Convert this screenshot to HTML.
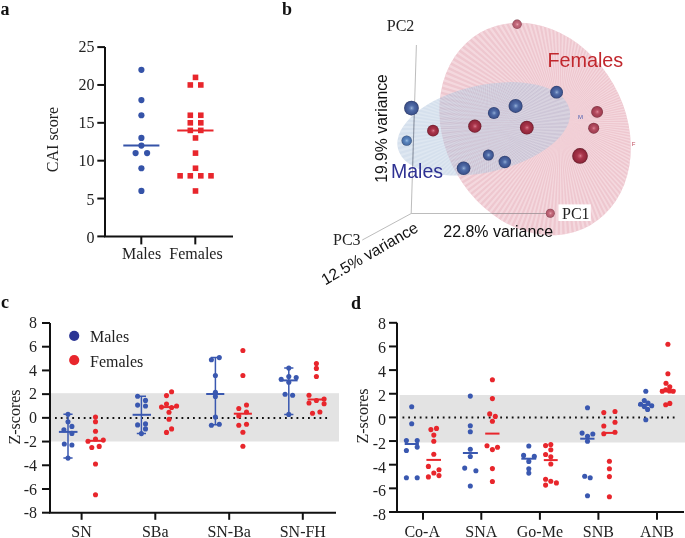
<!DOCTYPE html>
<html><head><meta charset="utf-8"><style>
html,body{margin:0;padding:0;background:#fff;}
body{width:685px;height:538px;overflow:hidden;}
svg{display:block;will-change:transform;}
.serif{font-family:"Liberation Serif",serif;}
.sans{font-family:"Liberation Sans",sans-serif;}
</style></head><body>
<svg width="685" height="538" viewBox="0 0 685 538">
<defs>

<radialGradient id="gb" cx="0.5" cy="0.5" r="0.5" fx="0.52" fy="0.5"><stop offset="0" stop-color="#b4c8e6"/><stop offset="0.12" stop-color="#7894c4"/><stop offset="0.38" stop-color="#4f6aa6"/><stop offset="0.8" stop-color="#3e5590"/><stop offset="0.93" stop-color="#34467a"/><stop offset="1" stop-color="#2c3560"/></radialGradient>
<radialGradient id="gb2" cx="0.5" cy="0.5" r="0.5" fx="0.52" fy="0.5"><stop offset="0" stop-color="#c0d8f0"/><stop offset="0.12" stop-color="#82a8d6"/><stop offset="0.38" stop-color="#5b86be"/><stop offset="0.8" stop-color="#4a70a8"/><stop offset="0.93" stop-color="#3e5c8c"/><stop offset="1" stop-color="#33486e"/></radialGradient>
<radialGradient id="gr" cx="0.5" cy="0.5" r="0.5" fx="0.52" fy="0.5"><stop offset="0" stop-color="#e49aa6"/><stop offset="0.12" stop-color="#c45a6e"/><stop offset="0.38" stop-color="#a8344a"/><stop offset="0.8" stop-color="#93283c"/><stop offset="0.93" stop-color="#7a2032"/><stop offset="1" stop-color="#5e1a26"/></radialGradient>
<radialGradient id="gr2" cx="0.5" cy="0.5" r="0.5" fx="0.52" fy="0.5"><stop offset="0" stop-color="#eaa8b2"/><stop offset="0.12" stop-color="#ce6c80"/><stop offset="0.38" stop-color="#b44c60"/><stop offset="0.8" stop-color="#a03e52"/><stop offset="0.93" stop-color="#883444"/><stop offset="1" stop-color="#6e2a38"/></radialGradient>
<radialGradient id="gr3" cx="0.5" cy="0.5" r="0.5" fx="0.52" fy="0.5"><stop offset="0" stop-color="#eebcc4"/><stop offset="0.12" stop-color="#d88c9a"/><stop offset="0.38" stop-color="#c46a7c"/><stop offset="0.8" stop-color="#b05a6c"/><stop offset="0.93" stop-color="#9a4c5c"/><stop offset="1" stop-color="#80404e"/></radialGradient>
</defs>
<rect width="685" height="538" fill="#fff"/>

<text class="serif" x="0.5" y="15" font-size="18" font-weight="bold" fill="#111">a</text>
<text class="serif" x="282" y="15" font-size="18" font-weight="bold" fill="#111">b</text>
<text class="serif" x="1" y="308" font-size="18" font-weight="bold" fill="#111">c</text>
<text class="serif" x="351" y="308.5" font-size="18" font-weight="bold" fill="#111">d</text>
<g stroke="#111" stroke-width="2" fill="none">
<path d="M105 47.099999999999994 V237.4 M104 236.4 H233"/>
<path d="M97.3 236.40 H105"/>
<path d="M97.3 198.54 H105"/>
<path d="M97.3 160.68 H105"/>
<path d="M97.3 122.82 H105"/>
<path d="M97.3 84.96 H105"/>
<path d="M97.3 47.10 H105"/>
<path d="M141.3 236.4 V244.4"/>
<path d="M195.3 236.4 V244.4"/>
</g>
<text class="serif" x="94.6" y="242.70" font-size="16" text-anchor="end" fill="#222">0</text>
<text class="serif" x="94.6" y="204.58" font-size="16" text-anchor="end" fill="#222">5</text>
<text class="serif" x="94.6" y="166.46" font-size="16" text-anchor="end" fill="#222">10</text>
<text class="serif" x="94.6" y="128.34" font-size="16" text-anchor="end" fill="#222">15</text>
<text class="serif" x="94.6" y="90.22" font-size="16" text-anchor="end" fill="#222">20</text>
<text class="serif" x="94.6" y="52.10" font-size="16" text-anchor="end" fill="#222">25</text>
<text class="serif" x="141.6" y="259.4" font-size="16" text-anchor="middle" fill="#222">Males</text>
<text class="serif" x="196" y="259.4" font-size="16" text-anchor="middle" fill="#222">Females</text>
<text class="serif" transform="translate(57.6,139.5) rotate(-90)" font-size="16" text-anchor="middle" fill="#222">CAI score</text>
<circle cx="141.4" cy="69.82" r="3.1" fill="#3553a8"/>
<circle cx="141.4" cy="100.10" r="3.1" fill="#3553a8"/>
<circle cx="141.4" cy="115.25" r="3.1" fill="#3553a8"/>
<circle cx="141.4" cy="137.96" r="3.1" fill="#3553a8"/>
<circle cx="141.4" cy="145.54" r="3.1" fill="#3553a8"/>
<circle cx="135.6" cy="153.11" r="3.1" fill="#3553a8"/>
<circle cx="147.1" cy="153.11" r="3.1" fill="#3553a8"/>
<circle cx="141.4" cy="168.25" r="3.1" fill="#3553a8"/>
<circle cx="141.4" cy="190.97" r="3.1" fill="#3553a8"/>
<path d="M123.3 145.54 H159.4" stroke="#3553a8" stroke-width="2"/>
<rect x="192.70" y="74.59" width="5.6" height="5.6" fill="#e8262c"/>
<rect x="187.50" y="82.16" width="5.6" height="5.6" fill="#e8262c"/>
<rect x="198.00" y="82.16" width="5.6" height="5.6" fill="#e8262c"/>
<rect x="187.50" y="112.45" width="5.6" height="5.6" fill="#e8262c"/>
<rect x="198.00" y="112.45" width="5.6" height="5.6" fill="#e8262c"/>
<rect x="187.50" y="120.02" width="5.6" height="5.6" fill="#e8262c"/>
<rect x="198.00" y="120.02" width="5.6" height="5.6" fill="#e8262c"/>
<rect x="187.50" y="127.59" width="5.6" height="5.6" fill="#e8262c"/>
<rect x="198.00" y="127.59" width="5.6" height="5.6" fill="#e8262c"/>
<rect x="192.70" y="135.16" width="5.6" height="5.6" fill="#e8262c"/>
<rect x="192.70" y="150.31" width="5.6" height="5.6" fill="#e8262c"/>
<rect x="192.70" y="165.45" width="5.6" height="5.6" fill="#e8262c"/>
<rect x="177.30" y="173.02" width="5.6" height="5.6" fill="#e8262c"/>
<rect x="187.50" y="173.02" width="5.6" height="5.6" fill="#e8262c"/>
<rect x="198.00" y="173.02" width="5.6" height="5.6" fill="#e8262c"/>
<rect x="208.20" y="173.02" width="5.6" height="5.6" fill="#e8262c"/>
<rect x="192.70" y="188.17" width="5.6" height="5.6" fill="#e8262c"/>
<path d="M177.2 130.39 H213.5" stroke="#e8262c" stroke-width="2"/>
<g>
<path d="M416.4 45 L411.2 213.5 L546 213.5 M411.2 213.5 L362.3 240" stroke="#b4b4b4" stroke-width="0.9" fill="none"/>
<clipPath id="cpr"><ellipse cx="535.1" cy="129" rx="90.3" ry="110.9" transform="rotate(-29.6 535.1 129)"/></clipPath>
<ellipse cx="535.1" cy="129" rx="90.3" ry="110.9" transform="rotate(-29.6 535.1 129)" fill="#eec7cf"/>
<path d="M560 122 L820.0 122.0 L819.9 127.4Z M560 122 L819.8 132.9 L819.5 138.3Z M560 122 L819.1 143.8 L818.6 149.2Z M560 122 L817.9 154.6 L817.2 160.0Z M560 122 L816.4 165.4 L815.4 170.7Z M560 122 L814.3 176.1 L813.1 181.4Z M560 122 L811.8 186.7 L810.4 191.9Z M560 122 L808.9 197.1 L807.3 202.3Z M560 122 L805.5 207.5 L803.7 212.6Z M560 122 L801.7 217.7 L799.7 222.8Z M560 122 L797.5 227.8 L795.3 232.7Z M560 122 L792.9 237.6 L790.4 242.5Z M560 122 L787.8 247.3 L785.2 252.0Z M560 122 L782.4 256.7 L779.5 261.3Z M560 122 L776.6 265.9 L773.5 270.4Z M560 122 L770.3 274.8 L767.1 279.2Z M560 122 L763.8 283.5 L760.3 287.7Z M560 122 L756.8 291.9 L753.2 296.0Z M560 122 L749.5 300.0 L745.8 303.9Z M560 122 L741.9 307.8 L738.0 311.5Z M560 122 L734.0 315.2 L729.9 318.8Z M560 122 L725.7 322.3 L721.5 325.8Z M560 122 L717.2 329.1 L712.8 332.3Z M560 122 L708.4 335.5 L703.9 338.6Z M560 122 L699.3 341.5 L694.7 344.4Z M560 122 L690.0 347.2 L685.3 349.8Z M560 122 L680.5 352.4 L675.6 354.9Z M560 122 L670.7 357.3 L665.8 359.5Z M560 122 L660.8 361.7 L655.7 363.7Z M560 122 L650.6 365.7 L645.5 367.5Z M560 122 L640.3 369.3 L635.1 370.9Z M560 122 L629.9 372.4 L624.7 373.8Z M560 122 L619.4 375.1 L614.1 376.3Z M560 122 L608.7 377.4 L603.4 378.4Z M560 122 L598.0 379.2 L592.6 379.9Z M560 122 L587.2 380.6 L581.8 381.1Z M560 122 L576.3 381.5 L570.9 381.8Z M560 122 L565.4 381.9 L560.0 382.0Z M560 122 L554.6 381.9 L549.1 381.8Z M560 122 L543.7 381.5 L538.2 381.1Z M560 122 L532.8 380.6 L527.4 379.9Z M560 122 L522.0 379.2 L516.6 378.4Z M560 122 L511.3 377.4 L505.9 376.3Z M560 122 L500.6 375.1 L495.3 373.8Z M560 122 L490.1 372.4 L484.9 370.9Z M560 122 L479.7 369.3 L474.5 367.5Z M560 122 L469.4 365.7 L464.3 363.7Z M560 122 L459.2 361.7 L454.2 359.5Z M560 122 L449.3 357.3 L444.4 354.9Z M560 122 L439.5 352.4 L434.7 349.8Z M560 122 L430.0 347.2 L425.3 344.4Z M560 122 L420.7 341.5 L416.1 338.6Z M560 122 L411.6 335.5 L407.2 332.3Z M560 122 L402.8 329.1 L398.5 325.8Z M560 122 L394.3 322.3 L390.1 318.8Z M560 122 L386.0 315.2 L382.0 311.5Z M560 122 L378.1 307.8 L374.2 303.9Z M560 122 L370.5 300.0 L366.8 296.0Z M560 122 L363.2 291.9 L359.7 287.7Z M560 122 L356.2 283.5 L352.9 279.2Z M560 122 L349.7 274.8 L346.5 270.4Z M560 122 L343.4 265.9 L340.5 261.3Z M560 122 L337.6 256.7 L334.8 252.0Z M560 122 L332.2 247.3 L329.6 242.5Z M560 122 L327.1 237.6 L324.7 232.7Z M560 122 L322.5 227.8 L320.3 222.8Z M560 122 L318.3 217.7 L316.3 212.6Z M560 122 L314.5 207.5 L312.7 202.3Z M560 122 L311.1 197.1 L309.6 191.9Z M560 122 L308.2 186.7 L306.9 181.4Z M560 122 L305.7 176.1 L304.6 170.7Z M560 122 L303.6 165.4 L302.8 160.0Z M560 122 L302.1 154.6 L301.4 149.2Z M560 122 L300.9 143.8 L300.5 138.3Z M560 122 L300.2 132.9 L300.1 127.4Z M560 122 L300.0 122.0 L300.1 116.6Z M560 122 L300.2 111.1 L300.5 105.7Z M560 122 L300.9 100.2 L301.4 94.8Z M560 122 L302.1 89.4 L302.8 84.0Z M560 122 L303.6 78.6 L304.6 73.3Z M560 122 L305.7 67.9 L306.9 62.6Z M560 122 L308.2 57.3 L309.6 52.1Z M560 122 L311.1 46.9 L312.7 41.7Z M560 122 L314.5 36.5 L316.3 31.4Z M560 122 L318.3 26.3 L320.3 21.2Z M560 122 L322.5 16.2 L324.7 11.3Z M560 122 L327.1 6.4 L329.6 1.5Z M560 122 L332.2 -3.3 L334.8 -8.0Z M560 122 L337.6 -12.7 L340.5 -17.3Z M560 122 L343.4 -21.9 L346.5 -26.4Z M560 122 L349.7 -30.8 L352.9 -35.2Z M560 122 L356.2 -39.5 L359.7 -43.7Z M560 122 L363.2 -47.9 L366.8 -52.0Z M560 122 L370.5 -56.0 L374.2 -59.9Z M560 122 L378.1 -63.8 L382.0 -67.5Z M560 122 L386.0 -71.2 L390.1 -74.8Z M560 122 L394.3 -78.3 L398.5 -81.8Z M560 122 L402.8 -85.1 L407.2 -88.3Z M560 122 L411.6 -91.5 L416.1 -94.6Z M560 122 L420.7 -97.5 L425.3 -100.4Z M560 122 L430.0 -103.2 L434.7 -105.8Z M560 122 L439.5 -108.4 L444.4 -110.9Z M560 122 L449.3 -113.3 L454.2 -115.5Z M560 122 L459.2 -117.7 L464.3 -119.7Z M560 122 L469.4 -121.7 L474.5 -123.5Z M560 122 L479.7 -125.3 L484.9 -126.9Z M560 122 L490.1 -128.4 L495.3 -129.8Z M560 122 L500.6 -131.1 L505.9 -132.3Z M560 122 L511.3 -133.4 L516.6 -134.4Z M560 122 L522.0 -135.2 L527.4 -135.9Z M560 122 L532.8 -136.6 L538.2 -137.1Z M560 122 L543.7 -137.5 L549.1 -137.8Z M560 122 L554.6 -137.9 L560.0 -138.0Z M560 122 L565.4 -137.9 L570.9 -137.8Z M560 122 L576.3 -137.5 L581.8 -137.1Z M560 122 L587.2 -136.6 L592.6 -135.9Z M560 122 L598.0 -135.2 L603.4 -134.4Z M560 122 L608.7 -133.4 L614.1 -132.3Z M560 122 L619.4 -131.1 L624.7 -129.8Z M560 122 L629.9 -128.4 L635.1 -126.9Z M560 122 L640.3 -125.3 L645.5 -123.5Z M560 122 L650.6 -121.7 L655.7 -119.7Z M560 122 L660.8 -117.7 L665.8 -115.5Z M560 122 L670.7 -113.3 L675.6 -110.9Z M560 122 L680.5 -108.4 L685.3 -105.8Z M560 122 L690.0 -103.2 L694.7 -100.4Z M560 122 L699.3 -97.5 L703.9 -94.6Z M560 122 L708.4 -91.5 L712.8 -88.3Z M560 122 L717.2 -85.1 L721.5 -81.8Z M560 122 L725.7 -78.3 L729.9 -74.8Z M560 122 L734.0 -71.2 L738.0 -67.5Z M560 122 L741.9 -63.8 L745.8 -59.9Z M560 122 L749.5 -56.0 L753.2 -52.0Z M560 122 L756.8 -47.9 L760.3 -43.7Z M560 122 L763.8 -39.5 L767.1 -35.2Z M560 122 L770.3 -30.8 L773.5 -26.4Z M560 122 L776.6 -21.9 L779.5 -17.3Z M560 122 L782.4 -12.7 L785.2 -8.0Z M560 122 L787.8 -3.3 L790.4 1.5Z M560 122 L792.9 6.4 L795.3 11.3Z M560 122 L797.5 16.2 L799.7 21.2Z M560 122 L801.7 26.3 L803.7 31.4Z M560 122 L805.5 36.5 L807.3 41.7Z M560 122 L808.9 46.9 L810.4 52.1Z M560 122 L811.8 57.3 L813.1 62.6Z M560 122 L814.3 67.9 L815.4 73.3Z M560 122 L816.4 78.6 L817.2 84.0Z M560 122 L817.9 89.4 L818.6 94.8Z M560 122 L819.1 100.2 L819.5 105.7Z M560 122 L819.8 111.1 L819.9 116.6Z" fill="#f8e2e7" fill-opacity="0.6" clip-path="url(#cpr)"/>
<ellipse cx="483.7" cy="128.8" rx="88" ry="43.5" transform="rotate(-12.8 483.7 128.8)" fill="#a5bdd9" fill-opacity="0.47"/>
<path d="M411.2 213.5 L546 213.5" stroke="#9c9095" stroke-width="0.8" fill="none" clip-path="url(#cpr)"/>
<clipPath id="cpb"><ellipse cx="483.7" cy="128.8" rx="88" ry="43.5" transform="rotate(-12.8 483.7 128.8)"/></clipPath>
<path d="M488 128 L688.0 128.0 L687.9 133.2Z M488 128 L687.7 138.5 L687.4 143.7Z M488 128 L686.9 148.9 L686.3 154.1Z M488 128 L685.5 159.3 L684.7 164.4Z M488 128 L683.6 169.6 L682.5 174.7Z M488 128 L681.2 179.8 L679.8 184.8Z M488 128 L678.2 189.8 L676.5 194.8Z M488 128 L674.7 199.7 L672.8 204.5Z M488 128 L670.7 209.3 L668.5 214.1Z M488 128 L666.2 218.8 L663.8 223.4Z M488 128 L661.2 228.0 L658.5 232.5Z M488 128 L655.7 236.9 L652.8 241.3Z M488 128 L649.8 245.6 L646.7 249.8Z M488 128 L643.4 253.9 L640.1 257.9Z M488 128 L636.6 261.8 L633.1 265.7Z M488 128 L629.4 269.4 L625.7 273.1Z M488 128 L621.8 276.6 L617.9 280.1Z M488 128 L613.9 283.4 L609.8 286.7Z M488 128 L605.6 289.8 L601.3 292.8Z M488 128 L596.9 295.7 L592.5 298.5Z M488 128 L588.0 301.2 L583.4 303.8Z M488 128 L578.8 306.2 L574.1 308.5Z M488 128 L569.3 310.7 L564.5 312.8Z M488 128 L559.7 314.7 L554.8 316.5Z M488 128 L549.8 318.2 L544.8 319.8Z M488 128 L539.8 321.2 L534.7 322.5Z M488 128 L529.6 323.6 L524.4 324.7Z M488 128 L519.3 325.5 L514.1 326.3Z M488 128 L508.9 326.9 L503.7 327.4Z M488 128 L498.5 327.7 L493.2 327.9Z M488 128 L488.0 328.0 L482.8 327.9Z M488 128 L477.5 327.7 L472.3 327.4Z M488 128 L467.1 326.9 L461.9 326.3Z M488 128 L456.7 325.5 L451.6 324.7Z M488 128 L446.4 323.6 L441.3 322.5Z M488 128 L436.2 321.2 L431.2 319.8Z M488 128 L426.2 318.2 L421.2 316.5Z M488 128 L416.3 314.7 L411.5 312.8Z M488 128 L406.7 310.7 L401.9 308.5Z M488 128 L397.2 306.2 L392.6 303.8Z M488 128 L388.0 301.2 L383.5 298.5Z M488 128 L379.1 295.7 L374.7 292.8Z M488 128 L370.4 289.8 L366.2 286.7Z M488 128 L362.1 283.4 L358.1 280.1Z M488 128 L354.2 276.6 L350.3 273.1Z M488 128 L346.6 269.4 L342.9 265.7Z M488 128 L339.4 261.8 L335.9 257.9Z M488 128 L332.6 253.9 L329.3 249.8Z M488 128 L326.2 245.6 L323.2 241.3Z M488 128 L320.3 236.9 L317.5 232.5Z M488 128 L314.8 228.0 L312.2 223.4Z M488 128 L309.8 218.8 L307.5 214.1Z M488 128 L305.3 209.3 L303.2 204.5Z M488 128 L301.3 199.7 L299.5 194.8Z M488 128 L297.8 189.8 L296.2 184.8Z M488 128 L294.8 179.8 L293.5 174.7Z M488 128 L292.4 169.6 L291.3 164.4Z M488 128 L290.5 159.3 L289.7 154.1Z M488 128 L289.1 148.9 L288.6 143.7Z M488 128 L288.3 138.5 L288.1 133.2Z M488 128 L288.0 128.0 L288.1 122.8Z M488 128 L288.3 117.5 L288.6 112.3Z M488 128 L289.1 107.1 L289.7 101.9Z M488 128 L290.5 96.7 L291.3 91.6Z M488 128 L292.4 86.4 L293.5 81.3Z M488 128 L294.8 76.2 L296.2 71.2Z M488 128 L297.8 66.2 L299.5 61.2Z M488 128 L301.3 56.3 L303.2 51.5Z M488 128 L305.3 46.7 L307.5 41.9Z M488 128 L309.8 37.2 L312.2 32.6Z M488 128 L314.8 28.0 L317.5 23.5Z M488 128 L320.3 19.1 L323.2 14.7Z M488 128 L326.2 10.4 L329.3 6.2Z M488 128 L332.6 2.1 L335.9 -1.9Z M488 128 L339.4 -5.8 L342.9 -9.7Z M488 128 L346.6 -13.4 L350.3 -17.1Z M488 128 L354.2 -20.6 L358.1 -24.1Z M488 128 L362.1 -27.4 L366.2 -30.7Z M488 128 L370.4 -33.8 L374.7 -36.8Z M488 128 L379.1 -39.7 L383.5 -42.5Z M488 128 L388.0 -45.2 L392.6 -47.8Z M488 128 L397.2 -50.2 L401.9 -52.5Z M488 128 L406.7 -54.7 L411.5 -56.8Z M488 128 L416.3 -58.7 L421.2 -60.5Z M488 128 L426.2 -62.2 L431.2 -63.8Z M488 128 L436.2 -65.2 L441.3 -66.5Z M488 128 L446.4 -67.6 L451.6 -68.7Z M488 128 L456.7 -69.5 L461.9 -70.3Z M488 128 L467.1 -70.9 L472.3 -71.4Z M488 128 L477.5 -71.7 L482.8 -71.9Z M488 128 L488.0 -72.0 L493.2 -71.9Z M488 128 L498.5 -71.7 L503.7 -71.4Z M488 128 L508.9 -70.9 L514.1 -70.3Z M488 128 L519.3 -69.5 L524.4 -68.7Z M488 128 L529.6 -67.6 L534.7 -66.5Z M488 128 L539.8 -65.2 L544.8 -63.8Z M488 128 L549.8 -62.2 L554.8 -60.5Z M488 128 L559.7 -58.7 L564.5 -56.8Z M488 128 L569.3 -54.7 L574.1 -52.5Z M488 128 L578.8 -50.2 L583.4 -47.8Z M488 128 L588.0 -45.2 L592.5 -42.5Z M488 128 L596.9 -39.7 L601.3 -36.8Z M488 128 L605.6 -33.8 L609.8 -30.7Z M488 128 L613.9 -27.4 L617.9 -24.1Z M488 128 L621.8 -20.6 L625.7 -17.1Z M488 128 L629.4 -13.4 L633.1 -9.7Z M488 128 L636.6 -5.8 L640.1 -1.9Z M488 128 L643.4 2.1 L646.7 6.2Z M488 128 L649.8 10.4 L652.8 14.7Z M488 128 L655.7 19.1 L658.5 23.5Z M488 128 L661.2 28.0 L663.8 32.6Z M488 128 L666.2 37.2 L668.5 41.9Z M488 128 L670.7 46.7 L672.8 51.5Z M488 128 L674.7 56.3 L676.5 61.2Z M488 128 L678.2 66.2 L679.8 71.2Z M488 128 L681.2 76.2 L682.5 81.3Z M488 128 L683.6 86.4 L684.7 91.6Z M488 128 L685.5 96.7 L686.3 101.9Z M488 128 L686.9 107.1 L687.4 112.3Z M488 128 L687.7 117.5 L687.9 122.8Z" fill="#ffffff" fill-opacity="0.22" clip-path="url(#cpb)"/>
<path d="M416.4 45 L411.2 213.3" stroke="#7d8596" stroke-width="0.8" fill="none" clip-path="url(#cpb)"/>
<circle cx="411.45" cy="108.1" r="7.4" fill="url(#gb)"/>
<circle cx="406.7" cy="140.65" r="5.2" fill="url(#gb2)"/>
<circle cx="433" cy="130.7" r="5.9" fill="url(#gr)"/>
<circle cx="474.8" cy="126.2" r="6.6" fill="url(#gr)"/>
<circle cx="493.9" cy="113" r="6" fill="url(#gb)"/>
<circle cx="515.6" cy="105.9" r="7" fill="url(#gb)"/>
<circle cx="556.6" cy="92.2" r="6.4" fill="url(#gb)"/>
<circle cx="526.8" cy="127.7" r="6.9" fill="url(#gr)"/>
<circle cx="488.4" cy="155" r="5.5" fill="url(#gb)"/>
<circle cx="504.8" cy="162" r="6.2" fill="url(#gb)"/>
<circle cx="463.6" cy="168.2" r="6.8" fill="url(#gb)"/>
<circle cx="580" cy="155.9" r="7.8" fill="url(#gr)"/>
<circle cx="517.1" cy="24.3" r="4.7" fill="url(#gr3)"/>
<circle cx="597.1" cy="111.9" r="5.9" fill="url(#gr2)"/>
<circle cx="593.7" cy="128.2" r="5.5" fill="url(#gr2)"/>
<circle cx="550.3" cy="213.2" r="4.5" fill="url(#gr3)"/>
<text class="sans" x="580.6" y="119" font-size="6" text-anchor="middle" fill="#4a5fb0">M</text>
<text class="sans" x="633.6" y="146" font-size="6" text-anchor="middle" fill="#c05060">F</text>
<rect x="558.4" y="204.4" width="32.4" height="16.6" fill="#fff"/>
<text class="serif" x="562" y="218.7" font-size="16" fill="#222">PC1</text>
<text class="serif" x="386.8" y="30.7" font-size="16" fill="#222">PC2</text>
<text class="serif" x="333" y="244.6" font-size="16" fill="#222">PC3</text>
<text class="sans" x="547.4" y="66.6" font-size="19.8" fill="#c1272d">Females</text>
<text class="sans" x="391" y="178" font-size="19.5" fill="#2e3192">Males</text>
<text class="sans" x="443.3" y="237" font-size="15.95" fill="#111">22.8% variance</text>
<text class="sans" transform="translate(387.3,128.5) rotate(-90)" font-size="15.75" text-anchor="middle" fill="#111">19.9% variance</text>
<text class="sans" transform="translate(372.3,258.2) rotate(-30)" font-size="15.8" text-anchor="middle" fill="#111">12.5% variance</text>
</g>
<rect x="51" y="393.2" width="288" height="48.30000000000001" fill="#e3e3e3"/>
<path d="M55.00 418 h1.8 M60.75 418 h1.8 M66.50 418 h1.8 M72.25 418 h1.8 M78.00 418 h1.8 M83.75 418 h1.8 M89.50 418 h1.8 M95.25 418 h1.8 M101.00 418 h1.8 M106.75 418 h1.8 M112.50 418 h1.8 M118.25 418 h1.8 M124.00 418 h1.8 M129.75 418 h1.8 M135.50 418 h1.8 M141.25 418 h1.8 M147.00 418 h1.8 M152.75 418 h1.8 M158.50 418 h1.8 M164.25 418 h1.8 M170.00 418 h1.8 M175.75 418 h1.8 M181.50 418 h1.8 M187.25 418 h1.8 M193.00 418 h1.8 M198.75 418 h1.8 M204.50 418 h1.8 M210.25 418 h1.8 M216.00 418 h1.8 M221.75 418 h1.8 M227.50 418 h1.8 M233.25 418 h1.8 M239.00 418 h1.8 M244.75 418 h1.8 M250.50 418 h1.8 M256.25 418 h1.8 M262.00 418 h1.8 M267.75 418 h1.8 M273.50 418 h1.8 M279.25 418 h1.8 M285.00 418 h1.8 M290.75 418 h1.8 M296.50 418 h1.8 M302.25 418 h1.8 M308.00 418 h1.8 M313.75 418 h1.8 M319.50 418 h1.8 M325.25 418 h1.8" stroke="#111" stroke-width="1.8"/>
<g stroke="#111" stroke-width="2" fill="none">
<path d="M50 323.00 V513.70 M49 512.70 H336"/>
<path d="M42 512.70 H50"/>
<path d="M42 488.99 H50"/>
<path d="M42 465.27 H50"/>
<path d="M42 441.56 H50"/>
<path d="M42 417.85 H50"/>
<path d="M42 394.14 H50"/>
<path d="M42 370.43 H50"/>
<path d="M42 346.71 H50"/>
<path d="M42 323.00 H50"/>
<path d="M81.6 512.70 V519.8"/>
<path d="M155.3 512.70 V519.8"/>
<path d="M229.2 512.70 V519.8"/>
<path d="M302.8 512.70 V519.8"/>
</g>
<text class="serif" x="37" y="518.48" font-size="16" text-anchor="end" fill="#222">-8</text>
<text class="serif" x="37" y="494.66" font-size="16" text-anchor="end" fill="#222">-6</text>
<text class="serif" x="37" y="470.84" font-size="16" text-anchor="end" fill="#222">-4</text>
<text class="serif" x="37" y="447.02" font-size="16" text-anchor="end" fill="#222">-2</text>
<text class="serif" x="37" y="423.20" font-size="16" text-anchor="end" fill="#222">0</text>
<text class="serif" x="37" y="399.38" font-size="16" text-anchor="end" fill="#222">2</text>
<text class="serif" x="37" y="375.56" font-size="16" text-anchor="end" fill="#222">4</text>
<text class="serif" x="37" y="351.74" font-size="16" text-anchor="end" fill="#222">6</text>
<text class="serif" x="37" y="327.92" font-size="16" text-anchor="end" fill="#222">8</text>
<text class="serif" x="81.6" y="536.5" font-size="16" text-anchor="middle" fill="#222">SN</text>
<text class="serif" x="155.3" y="536.5" font-size="16" text-anchor="middle" fill="#222">SBa</text>
<text class="serif" x="229.2" y="536.5" font-size="16" text-anchor="middle" fill="#222">SN-Ba</text>
<text class="serif" x="302.8" y="536.5" font-size="16" text-anchor="middle" fill="#222">SN-FH</text>
<text class="serif" transform="translate(19.5,417) rotate(-90)" font-size="16" text-anchor="middle" fill="#222">Z-scores</text>
<rect x="399.5" y="395" width="285.5" height="47.5" fill="#e3e3e3"/>
<path d="M402.50 417.5 h1.8 M408.25 417.5 h1.8 M414.00 417.5 h1.8 M419.75 417.5 h1.8 M425.50 417.5 h1.8 M431.25 417.5 h1.8 M437.00 417.5 h1.8 M442.75 417.5 h1.8 M448.50 417.5 h1.8 M454.25 417.5 h1.8 M460.00 417.5 h1.8 M465.75 417.5 h1.8 M471.50 417.5 h1.8 M477.25 417.5 h1.8 M483.00 417.5 h1.8 M488.75 417.5 h1.8 M494.50 417.5 h1.8 M500.25 417.5 h1.8 M506.00 417.5 h1.8 M511.75 417.5 h1.8 M517.50 417.5 h1.8 M523.25 417.5 h1.8 M529.00 417.5 h1.8 M534.75 417.5 h1.8 M540.50 417.5 h1.8 M546.25 417.5 h1.8 M552.00 417.5 h1.8 M557.75 417.5 h1.8 M563.50 417.5 h1.8 M569.25 417.5 h1.8 M575.00 417.5 h1.8 M580.75 417.5 h1.8 M586.50 417.5 h1.8 M592.25 417.5 h1.8 M598.00 417.5 h1.8 M603.75 417.5 h1.8 M609.50 417.5 h1.8 M615.25 417.5 h1.8 M621.00 417.5 h1.8 M626.75 417.5 h1.8 M632.50 417.5 h1.8 M638.25 417.5 h1.8 M644.00 417.5 h1.8 M649.75 417.5 h1.8 M655.50 417.5 h1.8 M661.25 417.5 h1.8 M667.00 417.5 h1.8 M672.75 417.5 h1.8" stroke="#111" stroke-width="1.8"/>
<g stroke="#111" stroke-width="2" fill="none">
<path d="M397 322.80 V513.00 M396 512.00 H684"/>
<path d="M389 512.00 H397"/>
<path d="M389 488.35 H397"/>
<path d="M389 464.70 H397"/>
<path d="M389 441.05 H397"/>
<path d="M389 417.40 H397"/>
<path d="M389 393.75 H397"/>
<path d="M389 370.10 H397"/>
<path d="M389 346.45 H397"/>
<path d="M389 322.80 H397"/>
<path d="M423 512.00 V519.8"/>
<path d="M481.3 512.00 V519.8"/>
<path d="M539.9 512.00 V519.8"/>
<path d="M598.4 512.00 V519.8"/>
<path d="M657 512.00 V519.8"/>
</g>
<text class="serif" x="386" y="520.20" font-size="16" text-anchor="end" fill="#222">-8</text>
<text class="serif" x="386" y="496.35" font-size="16" text-anchor="end" fill="#222">-6</text>
<text class="serif" x="386" y="472.50" font-size="16" text-anchor="end" fill="#222">-4</text>
<text class="serif" x="386" y="448.65" font-size="16" text-anchor="end" fill="#222">-2</text>
<text class="serif" x="386" y="424.80" font-size="16" text-anchor="end" fill="#222">0</text>
<text class="serif" x="386" y="400.95" font-size="16" text-anchor="end" fill="#222">2</text>
<text class="serif" x="386" y="377.10" font-size="16" text-anchor="end" fill="#222">4</text>
<text class="serif" x="386" y="353.25" font-size="16" text-anchor="end" fill="#222">6</text>
<text class="serif" x="386" y="329.40" font-size="16" text-anchor="end" fill="#222">8</text>
<text class="serif" x="422.2" y="536.5" font-size="16" text-anchor="middle" fill="#222">Co-A</text>
<text class="serif" x="481.3" y="536.5" font-size="16" text-anchor="middle" fill="#222">SNA</text>
<text class="serif" x="539.9" y="536.5" font-size="16" text-anchor="middle" fill="#222">Go-Me</text>
<text class="serif" x="598.4" y="536.5" font-size="16" text-anchor="middle" fill="#222">SNB</text>
<text class="serif" x="657" y="536.5" font-size="16" text-anchor="middle" fill="#222">ANB</text>
<text class="serif" transform="translate(368,416) rotate(-90)" font-size="16" text-anchor="middle" fill="#222">Z-scores</text>
<circle cx="74.2" cy="335.8" r="5.1" fill="#2b3594"/>
<circle cx="74.2" cy="360.1" r="5.1" fill="#e8262c"/>
<text class="serif" x="90" y="342.2" font-size="16" fill="#222">Males</text>
<text class="serif" x="90" y="366.7" font-size="16" fill="#222">Females</text>
<path d="M68 414.3 V458.1 M63.4 414.3 h9.2 M63.4 458.1 h9.2" stroke="#3a58b0" stroke-width="1.5" fill="none"/>
<path d="M58.9 431.9 H77.5" stroke="#3a58b0" stroke-width="2"/>
<circle cx="68" cy="414.3" r="2.55" fill="#3a58b0"/>
<circle cx="68" cy="421.7" r="2.55" fill="#3a58b0"/>
<circle cx="71.9" cy="426.4" r="2.55" fill="#3a58b0"/>
<circle cx="63.9" cy="429.7" r="2.55" fill="#3a58b0"/>
<circle cx="71.9" cy="433.4" r="2.55" fill="#3a58b0"/>
<circle cx="64.3" cy="444" r="2.55" fill="#3a58b0"/>
<circle cx="71.9" cy="445" r="2.55" fill="#3a58b0"/>
<circle cx="68" cy="458.1" r="2.55" fill="#3a58b0"/>
<path d="M86.2 440.8 H104.8" stroke="#e8262c" stroke-width="2"/>
<circle cx="95.5" cy="417.1" r="2.55" fill="#e8262c"/>
<circle cx="95.5" cy="421.7" r="2.55" fill="#e8262c"/>
<circle cx="95.5" cy="431.2" r="2.55" fill="#e8262c"/>
<circle cx="95.5" cy="439" r="2.55" fill="#e8262c"/>
<circle cx="88" cy="441.2" r="2.55" fill="#e8262c"/>
<circle cx="103.3" cy="440.1" r="2.55" fill="#e8262c"/>
<circle cx="91.8" cy="447.5" r="2.55" fill="#e8262c"/>
<circle cx="99.2" cy="446.4" r="2.55" fill="#e8262c"/>
<circle cx="95.5" cy="464" r="2.55" fill="#e8262c"/>
<circle cx="95.5" cy="494.7" r="2.55" fill="#e8262c"/>
<path d="M141.4 396.3 V433.6 M136.8 396.3 h9.2 M136.8 433.6 h9.2" stroke="#3a58b0" stroke-width="1.5" fill="none"/>
<path d="M132.6 414.8 H151" stroke="#3a58b0" stroke-width="2"/>
<circle cx="137.6" cy="396.3" r="2.55" fill="#3a58b0"/>
<circle cx="145.5" cy="400.4" r="2.55" fill="#3a58b0"/>
<circle cx="137.6" cy="405.1" r="2.55" fill="#3a58b0"/>
<circle cx="145.5" cy="406" r="2.55" fill="#3a58b0"/>
<circle cx="137.6" cy="424.9" r="2.55" fill="#3a58b0"/>
<circle cx="145.5" cy="423.9" r="2.55" fill="#3a58b0"/>
<circle cx="145.5" cy="428.9" r="2.55" fill="#3a58b0"/>
<circle cx="141.4" cy="433.6" r="2.55" fill="#3a58b0"/>
<path d="M160.2 407.1 H178.2" stroke="#e8262c" stroke-width="2"/>
<circle cx="171.6" cy="391.7" r="2.55" fill="#e8262c"/>
<circle cx="166.5" cy="395.6" r="2.55" fill="#e8262c"/>
<circle cx="166.5" cy="404" r="2.55" fill="#e8262c"/>
<circle cx="161.5" cy="407.1" r="2.55" fill="#e8262c"/>
<circle cx="171.6" cy="407.5" r="2.55" fill="#e8262c"/>
<circle cx="176.6" cy="406" r="2.55" fill="#e8262c"/>
<circle cx="169" cy="412.2" r="2.55" fill="#e8262c"/>
<circle cx="169" cy="419.3" r="2.55" fill="#e8262c"/>
<circle cx="171.6" cy="428.9" r="2.55" fill="#e8262c"/>
<circle cx="166.5" cy="432.4" r="2.55" fill="#e8262c"/>
<path d="M215.4 357.4 V424.8 M210.8 357.4 h9.2 M210.8 424.8 h9.2" stroke="#3a58b0" stroke-width="1.5" fill="none"/>
<path d="M206.2 394 H224.3" stroke="#3a58b0" stroke-width="2"/>
<circle cx="211.4" cy="359.7" r="2.55" fill="#3a58b0"/>
<circle cx="219.3" cy="357.6" r="2.55" fill="#3a58b0"/>
<circle cx="215.4" cy="375.5" r="2.55" fill="#3a58b0"/>
<circle cx="215.4" cy="392.2" r="2.55" fill="#3a58b0"/>
<circle cx="215.4" cy="396.5" r="2.55" fill="#3a58b0"/>
<circle cx="215.4" cy="417" r="2.55" fill="#3a58b0"/>
<circle cx="211.4" cy="425.2" r="2.55" fill="#3a58b0"/>
<circle cx="219.3" cy="424.3" r="2.55" fill="#3a58b0"/>
<path d="M233.8 413.7 H251.9" stroke="#e8262c" stroke-width="2"/>
<circle cx="242.9" cy="350.5" r="2.55" fill="#e8262c"/>
<circle cx="242.9" cy="375.5" r="2.55" fill="#e8262c"/>
<circle cx="246.5" cy="405" r="2.55" fill="#e8262c"/>
<circle cx="238.8" cy="408.5" r="2.55" fill="#e8262c"/>
<circle cx="246.5" cy="412" r="2.55" fill="#e8262c"/>
<circle cx="238.8" cy="416" r="2.55" fill="#e8262c"/>
<circle cx="238.8" cy="425.2" r="2.55" fill="#e8262c"/>
<circle cx="246.5" cy="424.2" r="2.55" fill="#e8262c"/>
<circle cx="242.9" cy="432.3" r="2.55" fill="#e8262c"/>
<circle cx="242.9" cy="446.3" r="2.55" fill="#e8262c"/>
<path d="M288.8 368.1 V414.4 M284.2 368.1 h9.2 M284.2 414.4 h9.2" stroke="#3a58b0" stroke-width="1.5" fill="none"/>
<path d="M279.8 380.4 H297.6" stroke="#3a58b0" stroke-width="2"/>
<circle cx="288.8" cy="368.1" r="2.55" fill="#3a58b0"/>
<circle cx="288.8" cy="376.5" r="2.55" fill="#3a58b0"/>
<circle cx="281.2" cy="379.3" r="2.55" fill="#3a58b0"/>
<circle cx="296.2" cy="377.6" r="2.55" fill="#3a58b0"/>
<circle cx="288.8" cy="382.3" r="2.55" fill="#3a58b0"/>
<circle cx="285.1" cy="394.3" r="2.55" fill="#3a58b0"/>
<circle cx="292.6" cy="395.3" r="2.55" fill="#3a58b0"/>
<circle cx="288.8" cy="414.4" r="2.55" fill="#3a58b0"/>
<path d="M307.6 399.5 H325.5" stroke="#e8262c" stroke-width="2"/>
<circle cx="316.4" cy="363.5" r="2.55" fill="#e8262c"/>
<circle cx="316.4" cy="368.4" r="2.55" fill="#e8262c"/>
<circle cx="316.4" cy="376.5" r="2.55" fill="#e8262c"/>
<circle cx="309" cy="395.3" r="2.55" fill="#e8262c"/>
<circle cx="324.1" cy="399.1" r="2.55" fill="#e8262c"/>
<circle cx="316.4" cy="400.5" r="2.55" fill="#e8262c"/>
<circle cx="309" cy="403" r="2.55" fill="#e8262c"/>
<circle cx="324.1" cy="403.7" r="2.55" fill="#e8262c"/>
<circle cx="312.5" cy="413.2" r="2.55" fill="#e8262c"/>
<circle cx="319.9" cy="412" r="2.55" fill="#e8262c"/>
<path d="M404.7 444 H418.9" stroke="#3a58b0" stroke-width="2"/>
<circle cx="411.7" cy="406.7" r="2.55" fill="#3a58b0"/>
<circle cx="411.7" cy="423.7" r="2.55" fill="#3a58b0"/>
<circle cx="406.4" cy="440.6" r="2.55" fill="#3a58b0"/>
<circle cx="417.2" cy="440.6" r="2.55" fill="#3a58b0"/>
<circle cx="406.4" cy="450.5" r="2.55" fill="#3a58b0"/>
<circle cx="417.2" cy="447.1" r="2.55" fill="#3a58b0"/>
<circle cx="406.4" cy="477.7" r="2.55" fill="#3a58b0"/>
<circle cx="417.2" cy="477.7" r="2.55" fill="#3a58b0"/>
<path d="M426.4 459.9 H441" stroke="#e8262c" stroke-width="2"/>
<circle cx="430.9" cy="429.6" r="2.55" fill="#e8262c"/>
<circle cx="436.5" cy="428.4" r="2.55" fill="#e8262c"/>
<circle cx="433.8" cy="435.1" r="2.55" fill="#e8262c"/>
<circle cx="433.8" cy="441.3" r="2.55" fill="#e8262c"/>
<circle cx="433.8" cy="454.3" r="2.55" fill="#e8262c"/>
<circle cx="428.4" cy="466.4" r="2.55" fill="#e8262c"/>
<circle cx="439" cy="469.7" r="2.55" fill="#e8262c"/>
<circle cx="433.8" cy="473" r="2.55" fill="#e8262c"/>
<circle cx="439" cy="475.6" r="2.55" fill="#e8262c"/>
<circle cx="428.4" cy="476.9" r="2.55" fill="#e8262c"/>
<path d="M462.9 453 H477.9" stroke="#3a58b0" stroke-width="2"/>
<circle cx="470.3" cy="396.1" r="2.55" fill="#3a58b0"/>
<circle cx="470.3" cy="425.8" r="2.55" fill="#3a58b0"/>
<circle cx="470.3" cy="431.8" r="2.55" fill="#3a58b0"/>
<circle cx="470.3" cy="449.2" r="2.55" fill="#3a58b0"/>
<circle cx="470.3" cy="456.5" r="2.55" fill="#3a58b0"/>
<circle cx="464.7" cy="468.1" r="2.55" fill="#3a58b0"/>
<circle cx="475.9" cy="470.8" r="2.55" fill="#3a58b0"/>
<circle cx="470.3" cy="486" r="2.55" fill="#3a58b0"/>
<path d="M485.2 433.6 H499.5" stroke="#e8262c" stroke-width="2"/>
<circle cx="492.4" cy="379.8" r="2.55" fill="#e8262c"/>
<circle cx="492.4" cy="398.6" r="2.55" fill="#e8262c"/>
<circle cx="489.7" cy="413.9" r="2.55" fill="#e8262c"/>
<circle cx="495.3" cy="416.4" r="2.55" fill="#e8262c"/>
<circle cx="492.4" cy="421.3" r="2.55" fill="#e8262c"/>
<circle cx="487" cy="445.8" r="2.55" fill="#e8262c"/>
<circle cx="497.5" cy="447.2" r="2.55" fill="#e8262c"/>
<circle cx="492.4" cy="449.6" r="2.55" fill="#e8262c"/>
<circle cx="492.4" cy="468.6" r="2.55" fill="#e8262c"/>
<circle cx="492.4" cy="481.5" r="2.55" fill="#e8262c"/>
<path d="M521.3 458.7 H536.2" stroke="#3a58b0" stroke-width="2"/>
<circle cx="528.8" cy="446" r="2.55" fill="#3a58b0"/>
<circle cx="523.6" cy="455.4" r="2.55" fill="#3a58b0"/>
<circle cx="534.3" cy="456.4" r="2.55" fill="#3a58b0"/>
<circle cx="528.8" cy="461.4" r="2.55" fill="#3a58b0"/>
<circle cx="528.8" cy="468.8" r="2.55" fill="#3a58b0"/>
<circle cx="528.8" cy="473.1" r="2.55" fill="#3a58b0"/>
<path d="M543.8 460.1 H557.7" stroke="#e8262c" stroke-width="2"/>
<circle cx="545.6" cy="445.6" r="2.55" fill="#e8262c"/>
<circle cx="550.8" cy="444.5" r="2.55" fill="#e8262c"/>
<circle cx="550.8" cy="449.7" r="2.55" fill="#e8262c"/>
<circle cx="545.6" cy="454.5" r="2.55" fill="#e8262c"/>
<circle cx="550.8" cy="456.7" r="2.55" fill="#e8262c"/>
<circle cx="550.8" cy="464" r="2.55" fill="#e8262c"/>
<circle cx="545.6" cy="479.2" r="2.55" fill="#e8262c"/>
<circle cx="550.8" cy="481.2" r="2.55" fill="#e8262c"/>
<circle cx="556.4" cy="482.9" r="2.55" fill="#e8262c"/>
<circle cx="545.6" cy="485.1" r="2.55" fill="#e8262c"/>
<path d="M580.2 438.7 H594.5" stroke="#3a58b0" stroke-width="2"/>
<circle cx="587.5" cy="407.8" r="2.55" fill="#3a58b0"/>
<circle cx="582.1" cy="433.1" r="2.55" fill="#3a58b0"/>
<circle cx="592.8" cy="434" r="2.55" fill="#3a58b0"/>
<circle cx="587.5" cy="436.2" r="2.55" fill="#3a58b0"/>
<circle cx="587.5" cy="441.3" r="2.55" fill="#3a58b0"/>
<circle cx="584.7" cy="476.2" r="2.55" fill="#3a58b0"/>
<circle cx="590.2" cy="477.7" r="2.55" fill="#3a58b0"/>
<circle cx="587.5" cy="495.7" r="2.55" fill="#3a58b0"/>
<path d="M602.9 432.9 H616.3" stroke="#e8262c" stroke-width="2"/>
<circle cx="603.8" cy="412.6" r="2.55" fill="#e8262c"/>
<circle cx="615" cy="411.5" r="2.55" fill="#e8262c"/>
<circle cx="615" cy="422.3" r="2.55" fill="#e8262c"/>
<circle cx="603.8" cy="426" r="2.55" fill="#e8262c"/>
<circle cx="615" cy="432.2" r="2.55" fill="#e8262c"/>
<circle cx="603.8" cy="433.8" r="2.55" fill="#e8262c"/>
<circle cx="609.4" cy="461.3" r="2.55" fill="#e8262c"/>
<circle cx="609.4" cy="468.8" r="2.55" fill="#e8262c"/>
<circle cx="609.4" cy="476.6" r="2.55" fill="#e8262c"/>
<circle cx="609.4" cy="496.7" r="2.55" fill="#e8262c"/>
<path d="M638 404.9 H653.5" stroke="#3a58b0" stroke-width="2"/>
<circle cx="645.8" cy="391.3" r="2.55" fill="#3a58b0"/>
<circle cx="644.3" cy="400.6" r="2.55" fill="#3a58b0"/>
<circle cx="640.6" cy="404.3" r="2.55" fill="#3a58b0"/>
<circle cx="648" cy="403" r="2.55" fill="#3a58b0"/>
<circle cx="651.7" cy="405.7" r="2.55" fill="#3a58b0"/>
<circle cx="644.3" cy="406.6" r="2.55" fill="#3a58b0"/>
<circle cx="647.6" cy="409.4" r="2.55" fill="#3a58b0"/>
<circle cx="645.8" cy="419.8" r="2.55" fill="#3a58b0"/>
<path d="M660 390.4 H675.5" stroke="#e8262c" stroke-width="2"/>
<circle cx="667.9" cy="344.3" r="2.55" fill="#e8262c"/>
<circle cx="667.9" cy="373.7" r="2.55" fill="#e8262c"/>
<circle cx="666" cy="383.3" r="2.55" fill="#e8262c"/>
<circle cx="669.8" cy="386.7" r="2.55" fill="#e8262c"/>
<circle cx="662.3" cy="391.3" r="2.55" fill="#e8262c"/>
<circle cx="665.7" cy="389.9" r="2.55" fill="#e8262c"/>
<circle cx="669.4" cy="391" r="2.55" fill="#e8262c"/>
<circle cx="673.1" cy="391.3" r="2.55" fill="#e8262c"/>
<circle cx="665.7" cy="404.7" r="2.55" fill="#e8262c"/>
<circle cx="669.8" cy="403.4" r="2.55" fill="#e8262c"/>
</svg></body></html>
